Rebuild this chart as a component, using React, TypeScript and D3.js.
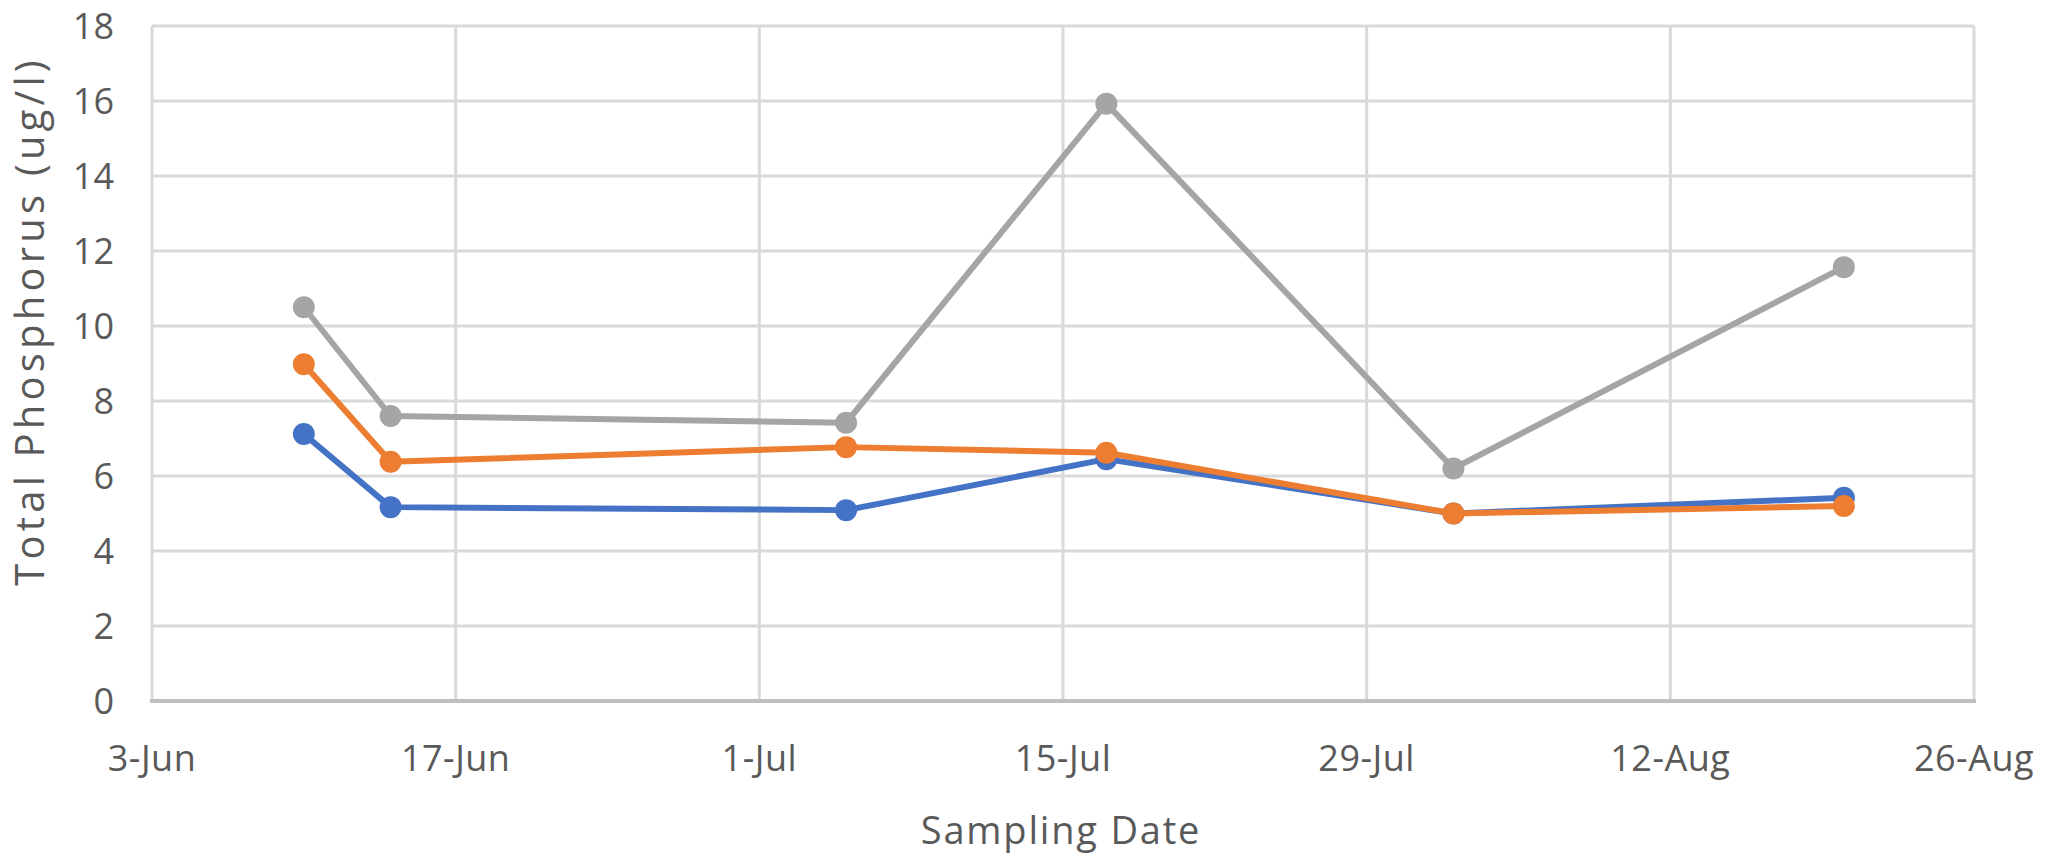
import React from "react";
import * as d3 from "d3";

const sampleDates = ["2019-06-10", "2019-06-14", "2019-07-05", "2019-07-17", "2019-08-02", "2019-08-20"];
const seriesBlue = [7.12, 5.17, 5.09, 6.45, 5.0, 5.42];
const seriesOrange = [8.98, 6.38, 6.77, 6.62, 5.0, 5.2];
const seriesGray = [10.5, 7.6, 7.42, 15.93, 6.2, 11.57];
const yTicks = [0, 2, 4, 6, 8, 10, 12, 14, 16, 18];
const xTickDates = ["2019-06-03", "2019-06-17", "2019-07-01", "2019-07-15", "2019-07-29", "2019-08-12", "2019-08-26"];

const W = 2049;
const H = 857;
const FONT = "'Open Sans', 'Noto Sans', sans-serif";
const TEXT = "#595959";

export default function App() {
  const parse = d3.timeParse("%Y-%m-%d");
  const dates = sampleDates.map((d) => parse(d) as Date);
  const ticks = xTickDates.map((d) => parse(d) as Date);
  const x = d3.scaleTime().domain([ticks[0], ticks[ticks.length - 1]]).range([152, 1974]);
  const y = d3.scaleLinear().domain([0, 18]).range([701, 26]);
  const fmt = d3.timeFormat("%-d-%b");
  const line = d3
    .line<number>()
    .x((_, i) => x(dates[i]))
    .y((v) => y(v));
  const series = [
    { values: seriesBlue, color: "#4472C4" },
    { values: seriesOrange, color: "#ED7D31" },
    { values: seriesGray, color: "#A5A5A5" },
  ];
  return (
    <svg width={W} height={H} style={{ position: "absolute", left: 0, top: 0, background: "#fff" }}>
      <rect x={0} y={0} width={W} height={H} fill="#fff" />
      {yTicks.map((t) => (
        <line key={"gy" + t} x1={x.range()[0]} x2={x.range()[1]} y1={y(t)} y2={y(t)} stroke="#d9d9d9" strokeWidth={3} />
      ))}
      {ticks.map((t, i) => (
        <line key={"gx" + i} x1={x(t)} x2={x(t)} y1={y(0)} y2={y(18)} stroke="#d9d9d9" strokeWidth={3} />
      ))}
      <line x1={x.range()[0] - 2} x2={x.range()[1] + 2} y1={y(0)} y2={y(0)} stroke="#bfbfbf" strokeWidth={4} />
      {yTicks.map((t) => (
        <text key={"ty" + t} x={114} y={y(t)} dy="0.36em" textAnchor="end" fontFamily={FONT} fontSize={36} fill={TEXT}>
          {t}
        </text>
      ))}
      {ticks.map((t, i) => (
        <text key={"tx" + i} x={x(t)} y={758} dy="0.36em" textAnchor="middle" fontFamily={FONT} fontSize={36} fill={TEXT} letterSpacing={0.5}>
          {fmt(t)}
        </text>
      ))}
      <text x={1061} y={830} dy="0.36em" textAnchor="middle" fontFamily={FONT} fontSize={38} fill={TEXT} letterSpacing={1.8}>
        Sampling Date
      </text>
      <text
        transform={`translate(30, 321) rotate(-90)`}
        dy="0.36em"
        textAnchor="middle"
        fontFamily={FONT}
        fontSize={40}
        fill={TEXT}
        letterSpacing={4.2}
      >
        Total Phosphorus (ug/l)
      </text>
      {series.map((s, si) => (
        <g key={"s" + si}>
          <path d={line(s.values) || ""} fill="none" stroke={s.color} strokeWidth={6} strokeLinejoin="round" />
          {s.values.map((v, i) => (
            <circle key={i} cx={x(dates[i])} cy={y(v)} r={11} fill={s.color} />
          ))}
        </g>
      ))}
    </svg>
  );
}
